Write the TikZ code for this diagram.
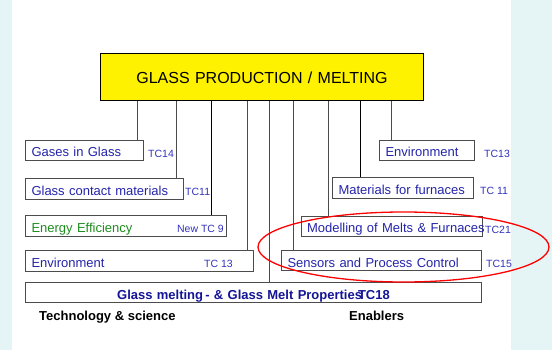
\documentclass[tikz,border=0pt]{standalone}
\usepackage{fontspec}
\setmainfont{Liberation Sans}
\usepackage{xcolor}
\usepackage{tikz}
\usetikzlibrary{positioning}
\definecolor{txtblue}{RGB}{36,36,170}
\definecolor{tcblue}{RGB}{50,50,190}
\definecolor{darkblue}{RGB}{20,20,150}
\definecolor{leafgreen}{RGB}{30,140,30}
\definecolor{sidebar}{RGB}{229,245,245}
\tikzstyle{box} = [rectangle, draw=black!70, line width=1pt, anchor=north west, minimum height=20pt, inner xsep=6pt, inner ysep=0pt, text height=14pt, text depth=1pt, align=left, text=txtblue, font=\fontsize{13}{15}\selectfont]
\tikzstyle{tc} = [inner sep=0pt, text=tcblue, yshift=-3pt, font=\fontsize{10.5}{12}\selectfont]
\tikzstyle{link} = [draw=black!70, line width=0.8pt]
\tikzstyle{caption} = [anchor=base west, inner sep=0pt, font=\fontsize{13}{15}\selectfont\bfseries]

\begin{document}
\begin{tikzpicture}[x=1pt, y=-1pt]
	\useasboundingbox (0,0) rectangle (552,350);
	\fill[sidebar] (0,0) rectangle (12,350);
	\fill[sidebar] (511,0) rectangle (552,350);

	\node[box, fill=yellow, draw=black, text=black, minimum width=323pt, minimum height=47pt, text width=311pt, align=center, text height=14pt, text depth=0pt, font=\fontsize{16}{18}\selectfont] (top) at (100,53) {GLASS PRODUCTION / MELTING};

	% technology side
	\node[box, minimum width=118pt, text width=106pt] (gases) at (25,140) {Gases in Glass};
	\node[tc, right=4pt of gases] {TC14};
	\node[box, minimum width=158pt, minimum height=21pt, text width=146pt] (contact) at (25,178) {Glass contact materials};
	\node[tc, right=1pt of contact] {TC11};
	\node[box, minimum width=201pt, minimum height=21pt, text width=189pt, text=leafgreen] (energy) at (25,215) {Energy Efficiency};
	\node[tc, left=3pt of energy.east] {New TC 9};
	\node[box, minimum width=228pt, minimum height=21pt, text width=216pt] (envleft) at (25,250) {Environment};
	\node[tc, left=21pt of envleft.east] {TC 13};

	\node[box, minimum width=456pt, text width=444pt, align=center, text=darkblue, font=\fontsize{13}{15}\selectfont\bfseries] (melting) at (25,282) {Glass melting\,- \& Glass Melt Properties\kern-4pt TC18};

	% enablers side
	\node[box, minimum width=95pt, text width=83pt] (envright) at (379,140) {Environment};
	\node[tc, right=9pt of envright] {TC13};
	\node[box, minimum width=141pt, minimum height=21pt, text width=129pt] (materials) at (332,177) {Materials for furnaces};
	\node[tc, right=6pt of materials] {TC 11};
	\node[box, minimum width=181pt, text width=170pt, inner xsep=5pt] (modelling) at (301,216) {\mbox{Modelling of Melts \& Furnaces}};
	\node[tc, right=2pt of modelling] {TC21};
	\node[box, minimum width=200pt, text width=188pt] (sensors) at (281,250) {Sensors and Process Control};
	\node[tc, right=4pt of sensors] {TC15};

	\draw[link] ([xshift=-7]gases.north east) -- ([xshift=-7]gases.north east |- top.south);
	\draw[link] ([xshift=-8]contact.north east) -- ([xshift=-8]contact.north east |- top.south);
	\draw[link, draw=black] ([xshift=-16]energy.north east) -- ([xshift=-16]energy.north east |- top.south);
	\draw[link] ([xshift=-7]envleft.north east) -- ([xshift=-7]envleft.north east |- top.south);
	\draw[link] ([xshift=169]top.south west) -- ([xshift=169]top.south west |- melting.north);
	\draw[link] ([xshift=12]sensors.north west) -- ([xshift=12]sensors.north west |- top.south);
	\draw[link] ([xshift=27]modelling.north west) -- ([xshift=27]modelling.north west |- top.south);
	\draw[link, draw=black] ([xshift=28]materials.north west) -- ([xshift=28]materials.north west |- top.south);
	\draw[link] ([xshift=12]envright.north west) -- ([xshift=12]envright.north west |- top.south);

	\node[caption] (tech) at (39,320.5) {Technology \& science};
	\node[caption] (enab) at (349,320.5) {Enablers};

	\draw[red, line width=1.3pt] (403.5,247) ellipse [x radius=145.5pt, y radius=35pt];
\end{tikzpicture}
\end{document}
